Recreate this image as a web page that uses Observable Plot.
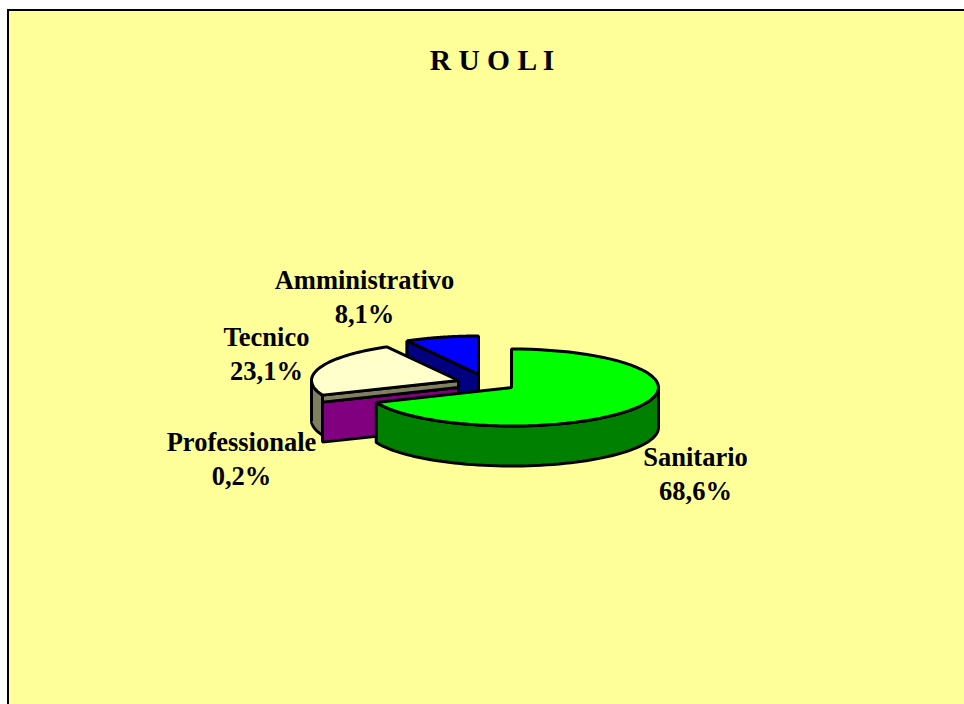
<!DOCTYPE html>
<html>
<head>
<meta charset="utf-8">
<script src="https://cdn.jsdelivr.net/npm/d3@7"></script>
<script src="https://cdn.jsdelivr.net/npm/@observablehq/plot@0.6"></script>
<style>
html,body{margin:0;padding:0;background:#fff;width:964px;height:704px;overflow:hidden}
#panel{position:absolute;left:7px;top:9px;width:957px;height:695px;box-sizing:border-box;border-left:2px solid #000;border-top:2px solid #000;background:#ffff99;overflow:hidden}
svg{display:block;background:transparent!important}
</style>
</head>
<body>
<div id="panel"></div>
<script>
const categories = ["Sanitario", "Professionale", "Tecnico", "Amministrativo"];
const shares = [68.6, 0.2, 23.1, 8.1];
const shareLabels = ["68,6%", "0,2%", "23,1%", "8,1%"];
const topColors = ["#00ff00", "#808060", "#ffffcc", "#0000ff"];
const wallColors = ["#008000", "#800080", "#808060", "#000080"];
const centerX = [511, 458, 458, 478];
const centerY = [387, 387, 380, 374];
const labelX = [695, 241, 266, 364];
const labelY = [472, 457, 352, 295];
const title = "R U O L I";

const rx = 147, ry = 38.5, depth = 40;
const total = d3.sum(shares);
const cum = d3.cumsum(shares);
const startOf = i => 2 * Math.PI * (i ? cum[i - 1] : 0) / total;
const endOf = i => 2 * Math.PI * cum[i] / total;
const pt = (i, a, dy = 0) => ({x: centerX[i] + rx * Math.sin(a), y: centerY[i] - ry * Math.cos(a) + dy});
const arc = (i, a0, a1, dy = 0) => d3.range(0, 65).map(k => pt(i, a0 + (a1 - a0) * k / 64, dy));
const apex = (i, dy = 0) => ({x: centerX[i], y: centerY[i] + dy});
const topFace = i => [apex(i), ...arc(i, startOf(i), endOf(i))];
const outerWall = (i, a0, a1) => [...arc(i, a0, a1), ...arc(i, a1, a0, depth)];
const cutWall = (i, a) => [apex(i), pt(i, a), pt(i, a, depth), apex(i, depth)];

const shape = (data, fill) => Plot.line(data, {
  x: "x", y: "y", curve: "linear-closed", fill, stroke: "#000",
  strokeWidth: 3, strokeLinejoin: "miter"
});

const [S, P, T, A] = [0, 1, 2, 3];
const tStart = startOf(T);
const stripOffset = centerY[P] - centerY[T];

const labels = categories.map((c, i) => ({x: labelX[i], y: labelY[i], text: `${c}\n${shareLabels[i]}`}));

const chart = Plot.plot({
  width: 955, height: 693,
  margin: 0,
  style: {background: "transparent", overflow: "visible"},
  x: {domain: [9, 964], range: [0, 955], axis: null},
  y: {domain: [11, 704], range: [0, 693], axis: null},
  marks: [
    shape(topFace(A), topColors[A]),
    shape(cutWall(A, startOf(A)), wallColors[A]),
    shape(outerWall(T, tStart, 1.5 * Math.PI), wallColors[T]),
    shape(cutWall(P, tStart), wallColors[P]),
    shape([apex(T), pt(T, tStart), pt(T, tStart, stripOffset), apex(T, stripOffset)], topColors[P]),
    shape(topFace(T), topColors[T]),
    shape(outerWall(S, Math.PI / 2, endOf(S)), wallColors[S]),
    shape(topFace(S), topColors[S]),
    Plot.text(labels, {
      x: "x", y: "y", text: "text", fontFamily: "Liberation Serif", fontWeight: "bold",
      fontSize: 26.5, lineHeight: 1.28, fill: "#000"
    }),
    Plot.text([title], {
      frameAnchor: "top", dy: 38, text: d => d, fontFamily: "Liberation Serif", fontWeight: "bold",
      fontSize: 29.5, fill: "#000", dx: 5
    })
  ]
});
document.getElementById("panel").appendChild(chart);
</script>
</body>
</html>
